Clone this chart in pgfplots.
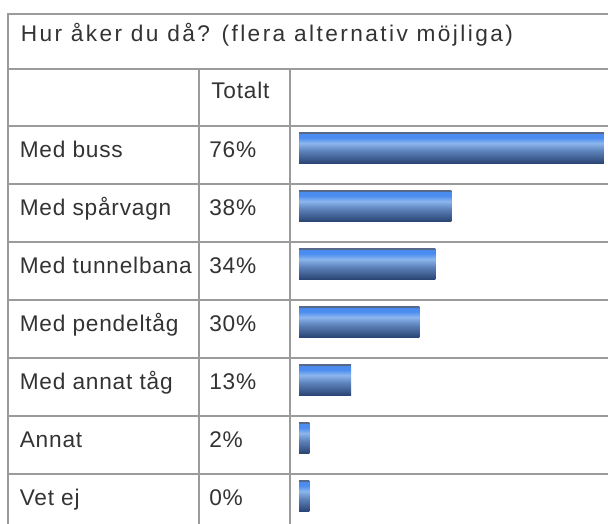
\documentclass[border=0pt]{standalone}
\usepackage{pgfplots}
\pgfplotsset{compat=1.18}
\usepackage{pgfplotstable}
\usepackage{fontspec}
\setmainfont{Liberation Sans}
\newfontfamily\titlefont[LetterSpace=10.7]{Liberation Sans}
\newfontfamily\cellfamily[LetterSpace=3.5]{Liberation Sans}

\definecolor{gridgray}{HTML}{9B9B9B}
\definecolor{txt}{HTML}{333333}
\definecolor{bBot}{HTML}{2B4675}
\definecolor{bMid}{HTML}{5E84BC}
\definecolor{bLight}{HTML}{8CB6EE}
\definecolor{bBlue}{HTML}{4A8CF0}
\definecolor{bEdge}{HTML}{56698A}
% bar gradient: dark bottom, light band, bright blue, dark top edge
\pgfdeclareverticalshading{barshade}{100bp}{color(0bp)=(bBot); color(25bp)=(bBot);
  color(45bp)=(bMid); color(57bp)=(bLight); color(66bp)=(bBlue); color(72bp)=(bBlue);
  color(72.5bp)=(bEdge); color(100bp)=(bEdge)}

\pgfplotstableread[col sep=comma]{
label,value
Med buss,76
Med spårvagn,38
Med tunnelbana,34
Med pendeltåg,30
Med annat tåg,13
Annat,2
Vet ej,0
}\modes

\newcommand{\cellfont}{\cellfamily\fontsize{17pt}{20pt}\selectfont}

\begin{document}
\begin{tikzpicture}[x=0.75pt, y=-0.75pt]
\useasboundingbox (0,0) rectangle (608,524);
% table rules (px units)
\begin{scope}[gridgray, line width=1.5pt]
  \draw (7.5,14) -- (608,14);
  \draw (7.5,69) -- (608,69);
  \foreach \yy in {126,184,242,300,358,416,474}
    \draw (7.5,\yy) -- (608,\yy);
  \draw (7.5,13.25) -- (7.5,524);
  \draw (199,69) -- (199,524);
  \draw (290,69) -- (290,524);
\end{scope}
\node[anchor=base west, inner sep=0pt, text=txt,
  font=\titlefont\fontsize{17pt}{20pt}\selectfont] at (20.5,41.5)
  {Hur åker du då? (flera alternativ möjliga)};
\node[anchor=base west, inner sep=0pt, text=txt, font=\cellfont] at (211,99) {Totalt};

\coordinate (c) at (451.5,321.5);
\begin{axis}[
  at={(c)}, anchor=center,
  scale only axis, width=228.75pt, height=304.5pt,
  xmin=0, xmax=76, ymin=-0.5, ymax=6.5, y dir=reverse,
  clip=false,
  axis line style={draw=none}, tick style={draw=none}, major tick length=0pt,
  xtick=\empty,
  ytick={0,...,6},
  yticklabels from table={\modes}{label},
  yticklabel style={anchor=base west, inner sep=0pt, text=txt, font=\cellfont,
    xshift=-209.6pt, yshift=-7.35pt},
  /pgf/number format/assume math mode=true,
]
% one plot per row so that each bar gets its own gradient;
% short bars get a minimum visible length, as in the source
\pgfplotsinvokeforeach{0,...,6}{
  \addplot[xbar, bar width=23.25pt, draw=none, shade, shading=barshade,
    unbounded coords=discard,
    x filter/.expression={\coordindex==#1 ? max(x,2.6) : nan}]
    table[x=value, y expr=\coordindex] {\modes};
}
% percentage column
\addplot[draw=none, mark=none, point meta=explicit,
  nodes near coords={\pgfmathprintnumber{\pgfplotspointmeta}\%},
  every node near coord/.append style={anchor=base west, inner sep=0pt,
    text=txt, font=\cellfont, yshift=-7.35pt}]
  table[x expr=-22.43, y expr=\coordindex, meta=value] {\modes};
\end{axis}
\end{tikzpicture}
\end{document}
